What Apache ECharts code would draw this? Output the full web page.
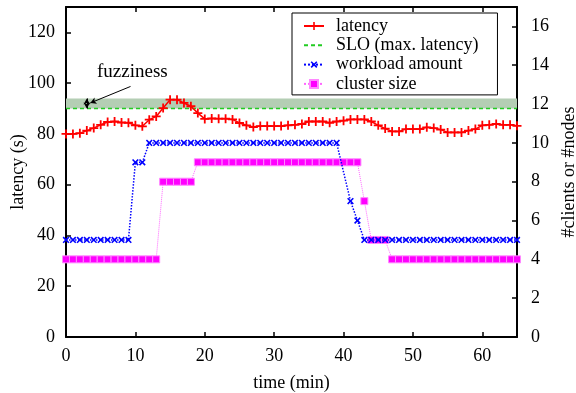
<!DOCTYPE html>
<html><head><meta charset="utf-8">
<script src="https://cdn.jsdelivr.net/npm/echarts@6/dist/echarts.min.js"></script>
<style>html,body{margin:0;padding:0;background:#fff}#c{width:576px;height:393px}</style>
</head><body><div id="c"></div>
<script>
const timeMin = [0,1,2,3,4,5,6,7,8,9,10,11,12,13,14,15,16,17,18,19,20,21,22,23,24,25,26,27,28,29,30,31,32,33,34,35,36,37,38,39,40,41,42,43,44,45,46,47,48,49,50,51,52,53,54,55,56,57,58,59,60,61,62,63,64,65];
const latency = [80,80,80.3,81.3,82.3,83.6,84.7,84.9,84.5,84.4,83.4,83.0,85.6,86.9,90.2,93.5,93.5,92.2,90.9,88.2,85.9,86.1,86.0,86.0,85.7,84.3,83.4,82.7,83.1,83.1,83.1,83.1,83.4,83.6,83.9,84.9,84.9,84.9,84.4,84.9,85.2,85.7,85.7,85.7,84.9,83.4,82.1,81.0,81.0,81.9,81.9,81.9,82.6,82.3,81.7,80.6,80.6,80.6,81.3,81.9,83.4,83.6,83.9,83.6,83.6,83.2];
const workload = [5,5,5,5,5,5,5,5,5,5,9,9,10,10,10,10,10,10,10,10,10,10,10,10,10,10,10,10,10,10,10,10,10,10,10,10,10,10,10,10,null,7,6,5,5,5,5,5,5,5,5,5,5,5,5,5,5,5,5,5,5,5,5,5,5,5];
const clusterSize = [4,4,4,4,4,4,4,4,4,4,4,4,4,4,8,8,8,8,8,9,9,9,9,9,9,9,9,9,9,9,9,9,9,9,9,9,9,9,9,9,9,9,9,7,5,5,5,4,4,4,4,4,4,4,4,4,4,4,4,4,4,4,4,4,4,4];
const sloValue = 90;
const fuzzTop = 94;
const xTicks = [0,10,20,30,40,50,60];

const pair = arr => timeMin.map((t,i)=>[t,arr[i]]);
const FONT = "'Liberation Serif','Times New Roman',serif";
const plus = 'path://M4,0H6V4H10V6H6V10H4V6H0V4H4Z';
const chart = echarts.init(document.getElementById('c'), null, {renderer:'canvas'});
const axisLine = {show:true, onZero:false, lineStyle:{color:'#000', width:2}};
const tick = {show:true, inside:true, length:5, lineStyle:{color:'#000', width:1.5}};
const lbl = {color:'#000', fontFamily:FONT, fontSize:18};
chart.setOption({
  animation:false,
  textStyle:{fontFamily:FONT},
  grid:{left:66, right:59, top:7, bottom:56, containLabel:false, outerBoundsMode:'none'},
  legend:{
    left:292, top:13, orient:'vertical', padding:[4,19,2,11],
    borderColor:'#000', borderWidth:1, itemWidth:20, itemHeight:10, itemGap:1.3,
    data:['latency', {name:'SLO (max. latency)', itemStyle:{opacity:0}}, 'workload amount','cluster size'],
    textStyle:{color:'#000', fontFamily:FONT, fontSize:18, lineHeight:18, padding:[0,0,0,7]}
  },
  xAxis:[
    {type:'value', min:0, max:65, interval:10, position:'bottom',
     name:'time (min)', nameLocation:'middle', nameGap:37,
     nameTextStyle:{color:'#000', fontFamily:FONT, fontSize:18},
     axisLine, axisTick:tick, splitLine:{show:false},
     axisLabel:Object.assign({margin:10, formatter:v=>xTicks.includes(v)?String(v):''}, lbl)},
    {type:'value', min:0, max:65, interval:10, position:'top',
     axisLine, axisTick:tick, splitLine:{show:false}, axisLabel:{show:false}}
  ],
  yAxis:[
    {type:'value', min:0, max:130, interval:20, position:'left',
     name:'latency (s)', nameLocation:'middle', nameGap:39, nameMoveOverlap:false,
     nameTextStyle:{color:'#000', fontFamily:FONT, fontSize:18},
     axisLine, axisTick:tick, splitLine:{show:false},
     axisLabel:Object.assign({margin:11, formatter:v=>v%20===0?String(v):''}, lbl)},
    {type:'value', min:0, max:17, interval:2, position:'right',
     name:'#clients or #nodes', nameLocation:'middle', nameGap:41,
     nameTextStyle:{color:'#000', fontFamily:FONT, fontSize:18},
     axisLine, axisTick:tick, splitLine:{show:false},
     axisLabel:Object.assign({margin:14, formatter:v=>v%2===0?String(v):''}, lbl)}
  ],
  series:[
    {name:'SLO (max. latency)', type:'line', xAxisIndex:0, yAxisIndex:0, z:3,
     data:[[0,sloValue],[65,sloValue]], symbol:'none',
     lineStyle:{color:'#22cc22', width:1.5, type:[4,3]}, itemStyle:{color:'#22cc22'},
     markArea:{silent:true, itemStyle:{color:'#b4ceb4', opacity:1},
       data:[[{yAxis:sloValue},{yAxis:fuzzTop}]]},
     markLine:{silent:true, symbol:['arrow','arrow'], symbolSize:[5,6],
       lineStyle:{color:'#000', width:1, type:'solid', opacity:1}, label:{show:false},
       data:[
         [{coord:[3.0,sloValue]},{coord:[3.0,fuzzTop]}],
         [{coord:[9.3,98.7], symbol:'none'},{coord:[3.5,92.2], symbol:'arrow'}]
       ]}
    },
    {name:'cluster size', type:'line', xAxisIndex:0, yAxisIndex:1, z:4,
     data:pair(clusterSize), symbol:'rect', symbolSize:7, connectNulls:true,
     lineStyle:{color:'#ff66ff', width:1, type:'dotted'},
     itemStyle:{color:'#ff00ff', borderColor:'#ff88ff', borderWidth:1}},
    {name:'workload amount', type:'line', xAxisIndex:0, yAxisIndex:1, z:5,
     data:pair(workload), symbol:plus, symbolRotate:45, symbolSize:8, connectNulls:true,
     lineStyle:{color:'#0000ff', width:1.5, type:'dotted'},
     itemStyle:{color:'#0000ff'}},
    {name:'latency', type:'line', xAxisIndex:0, yAxisIndex:0, z:6,
     data:pair(latency), symbol:plus, symbolSize:9,
     lineStyle:{color:'#ff0000', width:1.5}, itemStyle:{color:'#ff0000'}}
  ],
  graphic:[
    {type:'text', left:97, top:63, style:{text:'fuzziness', font:"19px 'Liberation Serif', serif", fill:'#000'}}
  ]
});
</script></body></html>
